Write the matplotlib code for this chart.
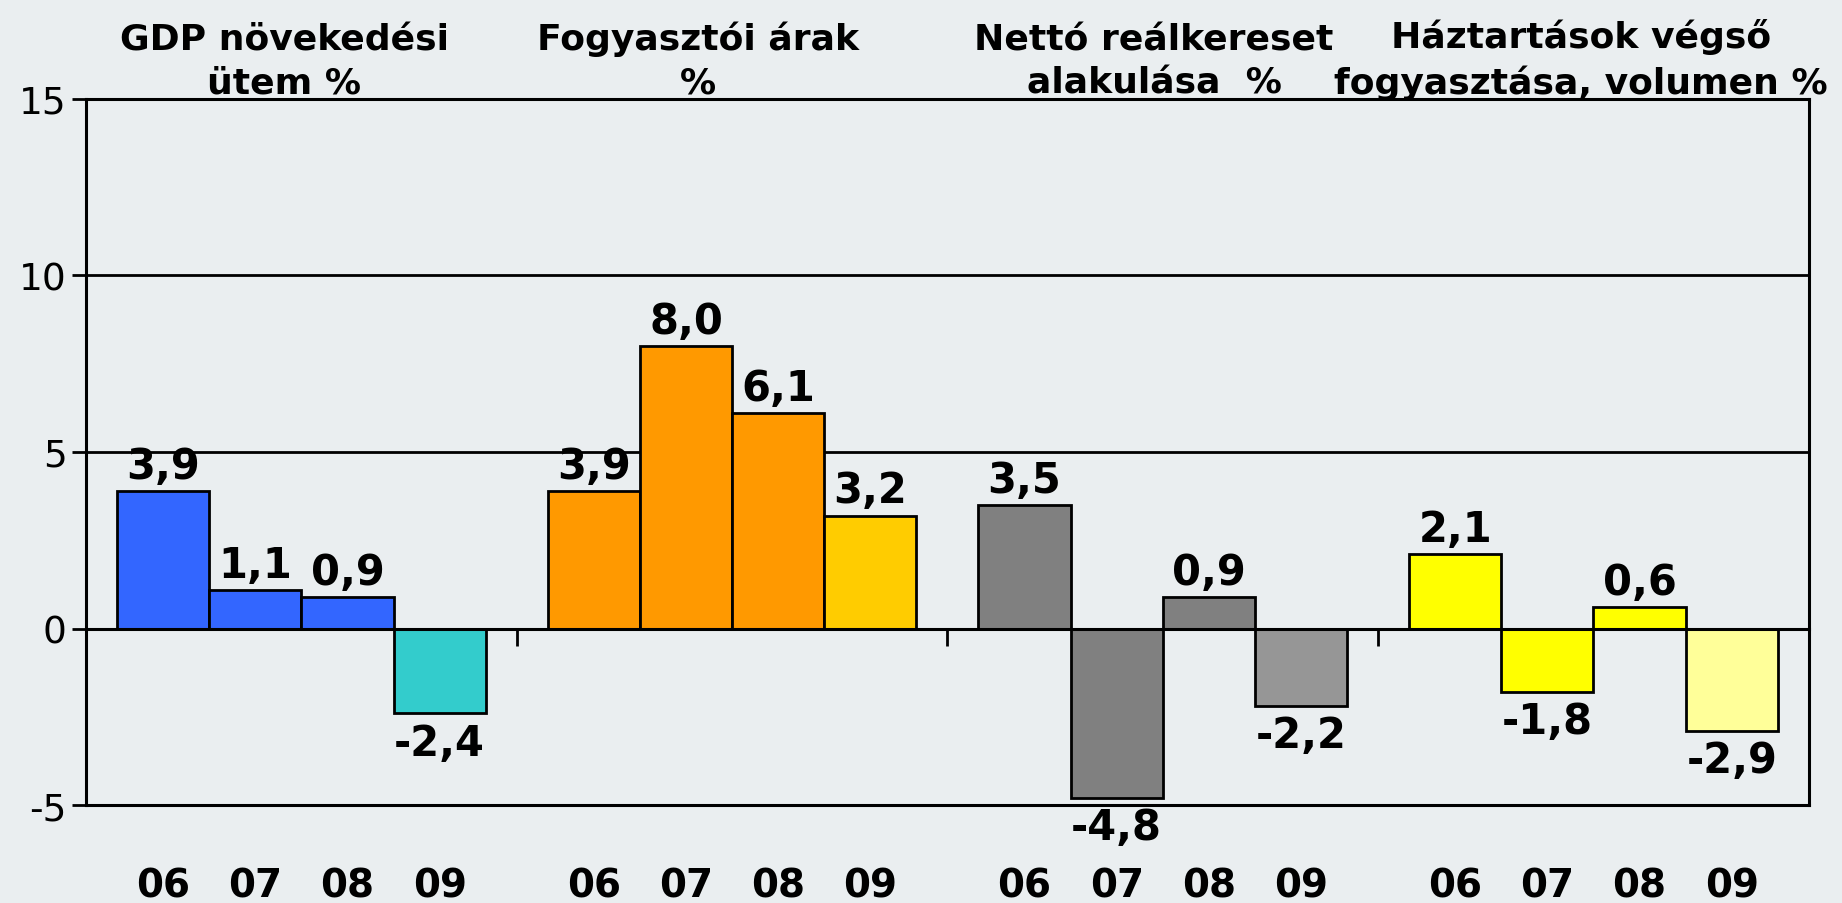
import numpy as np
import matplotlib
matplotlib.use("Agg")
import matplotlib.pyplot as plt

# data
titles = ["GDP növekedési\nütem %",
          "Fogyasztói árak\n%",
          "Nettó reálkereset\nalakulása  %",
          "Háztartások végső\nfogyasztása, volumen %"]
years = ["06", "07", "08", "09"]
gdp = [3.9, 1.1, 0.9, -2.4]
prices = [3.9, 8.0, 6.1, 3.2]
wages = [3.5, -4.8, 0.9, -2.2]
consumption = [2.1, -1.8, 0.6, -2.9]
series = [gdp, prices, wages, consumption]

colors = [["#3366FF", "#3366FF", "#3366FF", "#33CCCC"],
          ["#FF9900", "#FF9900", "#FF9900", "#FFCC00"],
          ["#808080", "#808080", "#808080", "#969696"],
          ["#FFFF00", "#FFFF00", "#FFFF00", "#FFFF99"]]

bg = "#EAEEF0"
plt.rcParams["font.family"] = ["DejaVu Sans"]

fig = plt.figure(figsize=(18.42, 9.04), dpi=100, facecolor=bg)
ax = fig.add_axes([0.0467, 0.1084, 0.9353, 0.781])
ax.set_facecolor(bg)

width = 0.214
offsets = (np.arange(4) - 1.5) * width

for g, vals in enumerate(series):
    xs = g + offsets
    ax.bar(xs, vals, width=width, color=colors[g], edgecolor="black",
           linewidth=2, zorder=3)
    for x, v in zip(xs, vals):
        lab = ("%.1f" % v).replace(".", ",")
        if v >= 0:
            ax.annotate(lab, (x, v), xytext=(0, 3), textcoords="offset points",
                        ha="center", va="bottom", fontsize=30,
                        fontweight="bold", zorder=4)
        else:
            ax.annotate(lab, (x, v), xytext=(0, -6), textcoords="offset points",
                        ha="center", va="top", fontsize=30,
                        fontweight="bold", zorder=4)

ax.set_xlim(-0.5, 3.5)
ax.set_ylim(-5, 15)
ax.set_yticks([-5, 0, 5, 10, 15])
ax.set_yticklabels(["-5", "0", "5", "10", "15"])
ax.tick_params(axis="y", labelsize=27, length=10, width=2, pad=4)
ax.yaxis.grid(True, color="black", linewidth=2)
ax.set_axisbelow(True)

# year labels under every bar
xpos = np.concatenate([g + offsets for g in range(4)])
ax.set_xticks(xpos)
ax.set_xticklabels(years * 4, fontsize=28, fontweight="bold")
ax.tick_params(axis="x", length=0, pad=44)

for s in ax.spines.values():
    s.set_linewidth(2.2)

# zero line with group separators
sec = ax.secondary_xaxis(0.25)
sec.set_xticks([0.5, 1.5, 2.5])
sec.set_xticklabels(["", "", ""])
sec.tick_params(axis="x", length=12, width=2, direction="out")
sec.spines["bottom"].set_linewidth(2.2)
sec.set_zorder(5)

# group titles
title_x = [-0.04, 0.92, 1.98, 2.97]
trans = matplotlib.transforms.blended_transform_factory(ax.transData, ax.transAxes)
for tx, t in zip(title_x, titles):
    ax.text(tx, 1.0085, t, transform=trans, ha="center", va="baseline",
            fontsize=26, fontweight="bold", linespacing=1.36)

fig.savefig("out.png", dpi=100, facecolor=bg)
